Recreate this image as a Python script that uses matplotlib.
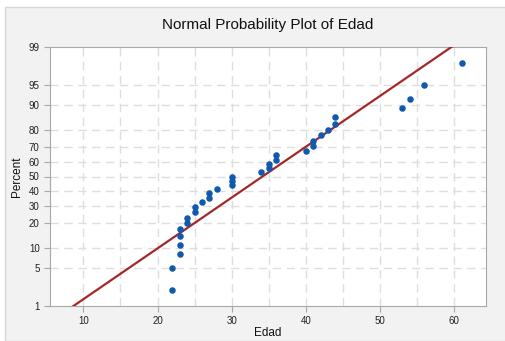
import numpy as np
import matplotlib
matplotlib.use("Agg")
import matplotlib.pyplot as plt
from matplotlib.patches import Rectangle
from statistics import NormalDist

plt.rcParams["font.family"] = ["Liberation Sans", "DejaVu Sans"]

# ages (sorted)
edad = [22, 22, 23, 23, 23, 23, 24, 24, 25, 25, 26, 27, 27, 28,
        30, 30, 30, 34, 35, 35, 36, 36, 40, 41, 41, 42, 43, 44, 44,
        53, 54, 56, 61]
y_ticks = [1, 5, 10, 20, 30, 40, 50, 60, 70, 80, 90, 95, 99]
x_ticks = [10, 20, 30, 40, 50, 60]

nd = NormalDist()
_ppf = np.vectorize(lambda p: nd.inv_cdf(min(max(p / 100.0, 1e-9), 1 - 1e-9)),
                    otypes=[float])
_cdf = np.vectorize(lambda z: nd.cdf(z) * 100.0, otypes=[float])


def forward(p):
    return _ppf(np.asarray(p, dtype=float))


def inverse(z):
    return _cdf(np.asarray(z, dtype=float))


x = np.array(edad, dtype=float)
n = len(x)
ranks = np.arange(1, n + 1)
pct = (ranks - 0.3) / (n + 0.4) * 100  # median ranks
mu, sd = x.mean(), x.std(ddof=1)

fig = plt.figure(figsize=(5.05, 3.41), dpi=100)
fig.patch.set_facecolor("white")
fig.patches.append(Rectangle((5 / 505, 0), 1, 1 - 7 / 341, transform=fig.transFigure,
                             facecolor="#f2f2f2", edgecolor="#d6d6d6", lw=1, zorder=-10))

ax = fig.add_axes([50 / 505, 1 - 306 / 341, 436 / 505, 259 / 341])
ax.set_facecolor("white")
ax.set_yscale("function", functions=(forward, inverse))

xl = np.linspace(0, 70, 300)
ax.plot(xl, inverse((xl - mu) / sd), color="#a3282a", lw=1.6, zorder=3)
ax.scatter(x, pct, s=22, color="#1059ad", zorder=4, linewidths=0)

ax.set_xlim(5.5, 64.3)
ax.set_ylim(1, 99)
ax.set_yticks(y_ticks)
ax.set_yticklabels([str(t) for t in y_ticks])
ax.yaxis.set_minor_locator(matplotlib.ticker.NullLocator())
ax.set_xticks(x_ticks)
ax.set_xticks(np.arange(15, 65, 10), minor=True)

for t in y_ticks[1:-1]:
    ax.axhline(t, color="#dedede", lw=1, ls=(0, (6, 4)), zorder=1)
for t in np.arange(10, 65, 5):
    ax.axvline(t, color="#dedede", lw=1, ls=(0, (6, 4)), zorder=1)

for s in ax.spines.values():
    s.set_color("#a8a8a8")
ax.tick_params(axis="both", which="major", length=4, color="#a8a8a8",
               labelsize=7, labelcolor="#222222")
ax.tick_params(axis="x", which="minor", length=0)

ax.set_xlabel("Edad", fontsize=8.5, color="#111111", va="center")
ax.xaxis.set_label_coords(0.5, -(333 - 306) / 259)
ax.set_ylabel("Percent", fontsize=8.5, color="#111111", labelpad=4)
fig.text(268 / 505, 1 - 25 / 341, "Normal Probability Plot of Edad",
         ha="center", va="center", fontsize=11, color="#111111")

fig.savefig("out.png", dpi=100, facecolor=fig.get_facecolor())
